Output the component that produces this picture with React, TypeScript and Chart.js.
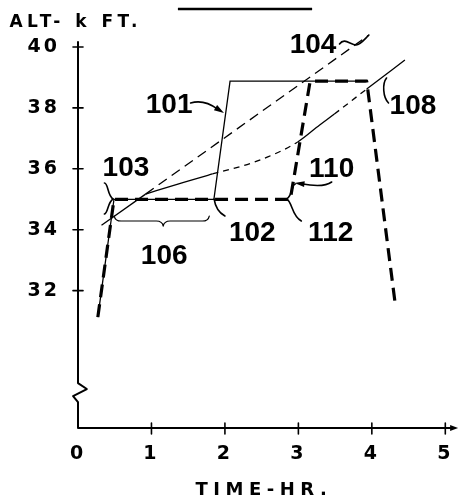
import React, { useEffect, useRef } from "react";
import { Chart, registerables } from "chart.js";

Chart.register(...registerables);

// Axis ticks
const xTicks = [0, 1, 2, 3, 4, 5];
const yTicks = [32, 34, 36, 38, 40];

// Heavy dashed profile (110 / 112): time (hr) and altitude (kft)
const profileTime = [0.27, 0.49, 2.89, 3.16, 3.93, 4.32];
const profileAlt = [31.13, 35.0, 35.0, 38.88, 38.88, 31.53];

// Thin solid profile (101)
const p101Time = [0.27, 0.49, 1.85, 2.07, 3.93];
const p101Alt = [31.13, 35.0, 35.0, 38.88, 38.88];

// Straight dashed line (104)
const l104Time = [0.32, 0.92, 3.96];
const l104Alt = [34.15, 35.17, 40.39];

// Chain curve (108)
const c108Time = [0.92, 1.36, 1.83, 2.4, 2.99, 3.29, 3.49, 3.93, 4.45];
const c108Alt = [35.17, 35.5, 35.83, 36.22, 36.88, 37.44, 37.8, 38.62, 39.57];

// Callout labels: text and anchor (hr, kft)
const calloutText = ["101", "104", "108", "103", "110", "102", "112", "106"];
const calloutX = [1.24, 3.2, 4.56, 0.653, 3.453, 2.373, 3.44, 1.173];
const calloutY = [38.16, 40.15, 38.14, 36.09, 36.07, 33.96, 33.96, 33.2];

const xMin = 0;
const xMax = 5.147;
const yMin = 27.49;
const yMax = 40.164;

const toXY = (xs: number[], ys: number[]) => xs.map((x, i) => ({ x, y: ys[i] }));

const decor = {
  id: "decor",
  beforeDraw(chart: any) {
    chart.ctx.letterSpacing = "3px";
  },
  afterDraw(chart: any) {
    const ctx: CanvasRenderingContext2D = chart.ctx;
    const a = chart.chartArea;
    const xs = chart.scales.x;
    const ys = chart.scales.y;
    const X = (v: number) => xs.getPixelForValue(v);
    const Y = (v: number) => ys.getPixelForValue(v);
    ctx.save();
    (ctx as any).letterSpacing = "0px";
    ctx.strokeStyle = "#000";
    ctx.fillStyle = "#000";
    ctx.lineCap = "round";
    ctx.lineJoin = "round";

    // axes with break on the y axis
    ctx.lineWidth = 2;
    ctx.beginPath();
    ctx.moveTo(a.left, a.top);
    ctx.lineTo(a.left, Y(28.965));
    ctx.lineTo(X(0.12), Y(28.77));
    ctx.lineTo(X(-0.067), Y(28.54));
    ctx.lineTo(a.left, Y(28.34));
    ctx.lineTo(a.left, a.bottom);
    ctx.lineTo(a.right - 3, a.bottom);
    ctx.stroke();
    ctx.beginPath();
    ctx.moveTo(a.right + 2, a.bottom);
    ctx.lineTo(a.right - 6, a.bottom - 3);
    ctx.lineTo(a.right - 6, a.bottom + 3);
    ctx.closePath();
    ctx.fill();

    // tick crosses
    ctx.lineWidth = 1.6;
    yTicks.forEach((v) => {
      ctx.beginPath();
      ctx.moveTo(a.left - 5, Y(v));
      ctx.lineTo(a.left + 5, Y(v));
      ctx.stroke();
    });
    xTicks.forEach((v) => {
      if (v === 0) return;
      ctx.beginPath();
      ctx.moveTo(X(v), a.bottom - 5);
      ctx.lineTo(X(v), a.bottom + 6);
      ctx.stroke();
    });

    // title underline (figure caption cut off)
    ctx.lineWidth = 2.5;
    ctx.lineCap = "butt";
    ctx.beginPath();
    ctx.moveTo(X(1.36), Y(41.248));
    ctx.lineTo(X(3.187), Y(41.248));
    ctx.stroke();
    ctx.lineCap = "round";

    // text helper: (x,y) is the centre of the capitals
    const text = (s: string, xv: number, yv: number, size: number, family: string, weight: string, spacing: number, align: CanvasTextAlign) => {
      ctx.font = `${weight} ${size}px ${family}`;
      (ctx as any).letterSpacing = `${spacing}px`;
      ctx.textAlign = align;
      ctx.textBaseline = "alphabetic";
      const dx = align === "center" ? spacing / 2 : 0;
      ctx.fillText(s, X(xv) + dx, Y(yv) + size * 0.36);
    };

    text("ALT- k FT.", -0.933, 40.854, 17, '"DejaVu Sans"', "bold", 4.5, "left");
    text("TIME-HR.", 2.493, 25.5, 18, '"DejaVu Sans"', "bold", 5.5, "center");
    calloutText.forEach((s, i) => text(s, calloutX[i], calloutY[i], 28, '"Liberation Sans"', "bold", 0, "center"));
    (ctx as any).letterSpacing = "0px";

    // leaders and braces
    ctx.lineWidth = 1.6;
    const path = (pts: number[][]) => {
      ctx.beginPath();
      ctx.moveTo(X(pts[0][0]), Y(pts[0][1]));
      for (let i = 1; i + 2 < pts.length; i += 3) {
        const c1 = pts[i], c2 = pts[i + 1], p = pts[i + 2];
        ctx.bezierCurveTo(X(c1[0]), Y(c1[1]), X(c2[0]), Y(c2[1]), X(p[0]), Y(p[1]));
      }
      ctx.stroke();
    };
    const arrow = (fromX: number, fromY: number, tipX: number, tipY: number) => {
      const x0 = X(fromX), y0 = Y(fromY), x1 = X(tipX), y1 = Y(tipY);
      const ang = Math.atan2(y1 - y0, x1 - x0);
      const L = 10, W = 3;
      ctx.beginPath();
      ctx.moveTo(x1, y1);
      ctx.lineTo(x1 - L * Math.cos(ang) + W * Math.sin(ang), y1 - L * Math.sin(ang) - W * Math.cos(ang));
      ctx.lineTo(x1 - L * Math.cos(ang) - W * Math.sin(ang), y1 - L * Math.sin(ang) + W * Math.cos(ang));
      ctx.closePath();
      ctx.fill();
    };

    // 101 leader with arrow
    path([[1.533, 38.161], [1.667, 38.259], [1.787, 38.161], [1.9, 37.96]]);
    arrow(1.88, 37.997, 1.987, 37.833);
    // 104 squiggle
    path([[3.56, 40.098], [3.627, 40.328], [3.707, 40.066], [3.787, 40.066], [3.84, 40.066], [3.893, 40.23], [3.96, 40.394]]);
    // 108 hook
    path([[4.2, 38.982], [4.14, 38.8], [4.15, 38.35], [4.227, 38.161]]);
    // 103 brace
    path([[0.36, 35.534], [0.413, 35.534], [0.4, 35.107], [0.48, 35.008], [0.4, 34.909], [0.413, 34.548], [0.36, 34.515]]);
    // 102 leader
    path([[1.853, 35.008], [1.867, 34.778], [1.907, 34.581], [2.0, 34.45]]);
    // 112 brace
    path([[2.96, 35.501], [2.907, 35.501], [2.92, 35.107], [2.84, 35.008], [2.92, 34.909], [2.907, 34.45], [3.04, 34.286]]);
    // 110 leader with arrow
    path([[3.453, 35.567], [3.36, 35.402], [3.2, 35.435], [3.04, 35.51]]);
    arrow(3.067, 35.501, 2.947, 35.534);
    // 106 brace
    ctx.lineWidth = 1.2;
    ctx.beginPath();
    ctx.moveTo(X(0.493), Y(34.45));
    ctx.quadraticCurveTo(X(0.507), Y(34.286), X(0.587), Y(34.286));
    ctx.lineTo(X(1.067), Y(34.286));
    ctx.quadraticCurveTo(X(1.147), Y(34.286), X(1.16), Y(34.121));
    ctx.quadraticCurveTo(X(1.173), Y(34.286), X(1.253), Y(34.286));
    ctx.lineTo(X(1.693), Y(34.286));
    ctx.quadraticCurveTo(X(1.773), Y(34.286), X(1.787), Y(34.45));
    ctx.stroke();

    ctx.restore();
  },
};

export default function App() {
  const ref = useRef<HTMLCanvasElement | null>(null);
  useEffect(() => {
    if (!ref.current) return;
    const tickFont = { family: '"DejaVu Sans"', weight: "bold" as const, size: 19 };
    const chart = new Chart(ref.current, {
      type: "line",
      data: {
        datasets: [
          {
            data: toXY(profileTime, profileAlt),
            borderColor: "#000",
            borderWidth: 3.2,
            borderDash: [13, 7],
            borderCapStyle: "butt",
            borderJoinStyle: "round",
            pointRadius: 0,
            tension: 0,
          },
          {
            data: toXY(p101Time, p101Alt),
            borderColor: "#000",
            borderWidth: 1.3,
            pointRadius: 0,
            tension: 0,
          },
          {
            data: toXY(l104Time, l104Alt),
            borderColor: "#000",
            borderWidth: 1.3,
            pointRadius: 0,
            tension: 0,
            clip: false,
            segment: { borderDash: (c: any) => (c.p0DataIndex === 0 ? [] : [10, 6]) },
          } as any,
          {
            data: toXY(c108Time, c108Alt),
            borderColor: "#000",
            borderWidth: 1.3,
            pointRadius: 0,
            cubicInterpolationMode: "monotone",
            clip: false,
            segment: {
              borderDash: (c: any) => {
                const x = c.p0.parsed.x;
                return (x >= 1.8 && x < 2.95) || (x >= 3.45 && x < 3.9) ? [6, 5] : [];
              },
            },
          } as any,
        ],
      },
      options: {
        responsive: false,
        animation: false,
        maintainAspectRatio: false,
        layout: { padding: { top: 42, right: 3, left: 0, bottom: 0 } },
        plugins: { legend: { display: false }, tooltip: { enabled: false }, title: { display: false } },
        scales: {
          x: {
            type: "linear",
            min: xMin,
            max: xMax,
            border: { display: false },
            grid: { display: false, drawTicks: false },
            afterBuildTicks: (ax: any) => {
              ax.ticks = xTicks.map((v) => ({ value: v }));
            },
            afterFit: (ax: any) => {
              ax.height = 71;
            },
            ticks: { font: tickFont, color: "#000", padding: 15, maxRotation: 0, autoSkip: false, callback: (v: any) => String(v) },
          },
          y: {
            type: "linear",
            min: yMin,
            max: yMax,
            border: { display: false },
            grid: { display: false, drawTicks: false },
            afterBuildTicks: (ax: any) => {
              ax.ticks = yTicks.map((v) => ({ value: v }));
            },
            afterFit: (ax: any) => {
              ax.width = 78;
            },
            ticks: { font: tickFont, color: "#000", padding: 18, autoSkip: false, callback: (v: any) => String(v) },
          },
        },
      },
      plugins: [decor],
    });
    return () => chart.destroy();
  }, []);
  return (
    <div style={{ position: "absolute", left: 0, top: 0, width: 467, height: 499, background: "#fff" }}>
      <canvas ref={ref} width={467} height={499} style={{ display: "block" }} />
    </div>
  );
}
